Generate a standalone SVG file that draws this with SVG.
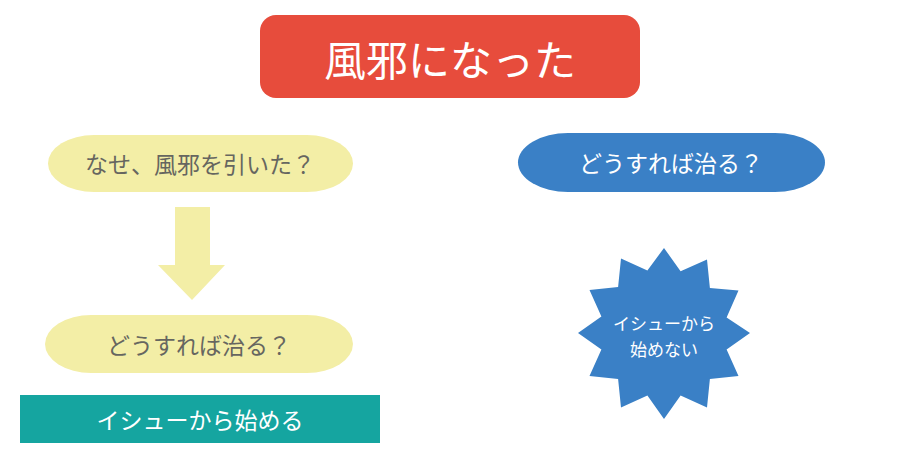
<svg xmlns="http://www.w3.org/2000/svg" width="900" height="471" viewBox="0 0 900 471">
<style>
text{font-family:"Noto Sans CJK JP","Noto Sans",sans-serif;text-anchor:middle;dominant-baseline:central}
.w{fill:#ffffff}
.g{fill:#666660}
.y{fill:#f3eea6}
</style>
<rect width="900" height="471" fill="#ffffff"/>
<g id="title">
<rect x="260" y="15" width="380" height="83" rx="16" fill="#e74c3c"/>
<text x="450" y="57" class="w" font-size="42">風邪になった</text>
</g>
<g id="why">
<rect x="48" y="135" width="305" height="57" rx="46" ry="28.5" class="y"/>
<text x="200" y="163" class="g" font-size="23">なせ、風邪を引いた？</text>
</g>
<g id="connectors">
<polygon points="175,207 210,207 210,265 225,265 192,300 158,265 175,265" class="y"/>
</g>
<g id="how-left">
<rect x="45" y="315" width="308" height="58" rx="46" ry="29" class="y"/>
<text x="199" y="344" class="g" font-size="23">どうすれば治る？</text>
</g>
<g id="issue">
<rect x="20" y="395" width="360" height="48" fill="#15a5a0"/>
<text x="200" y="419" class="w" font-size="23">イシューから始める</text>
</g>
<g id="how-right">
<rect x="518" y="133" width="307" height="59" rx="50" ry="29.5" fill="#3a80c6"/>
<text x="671" y="162" class="w" font-size="23">どうすれば治る？</text>
</g>
<g id="star">
<polygon fill="#3a80c6" points="664.0,248.0 680.6,271.2 707.0,259.4 709.9,287.9 738.5,290.5 726.6,317.4 750.0,333.0 726.6,349.6 738.5,376.0 709.9,378.9 707.0,407.5 680.6,395.6 664.0,419.0 647.4,395.6 621.0,407.5 618.1,378.9 589.5,376.0 601.4,349.6 578.0,333.0 601.4,316.4 589.5,290.0 618.1,287.1 621.0,258.5 647.4,270.4"/>
<text x="664" y="322" class="w" font-size="17">イシューから</text>
<text x="664" y="348" class="w" font-size="17">始めない</text>
</g>
</svg>
